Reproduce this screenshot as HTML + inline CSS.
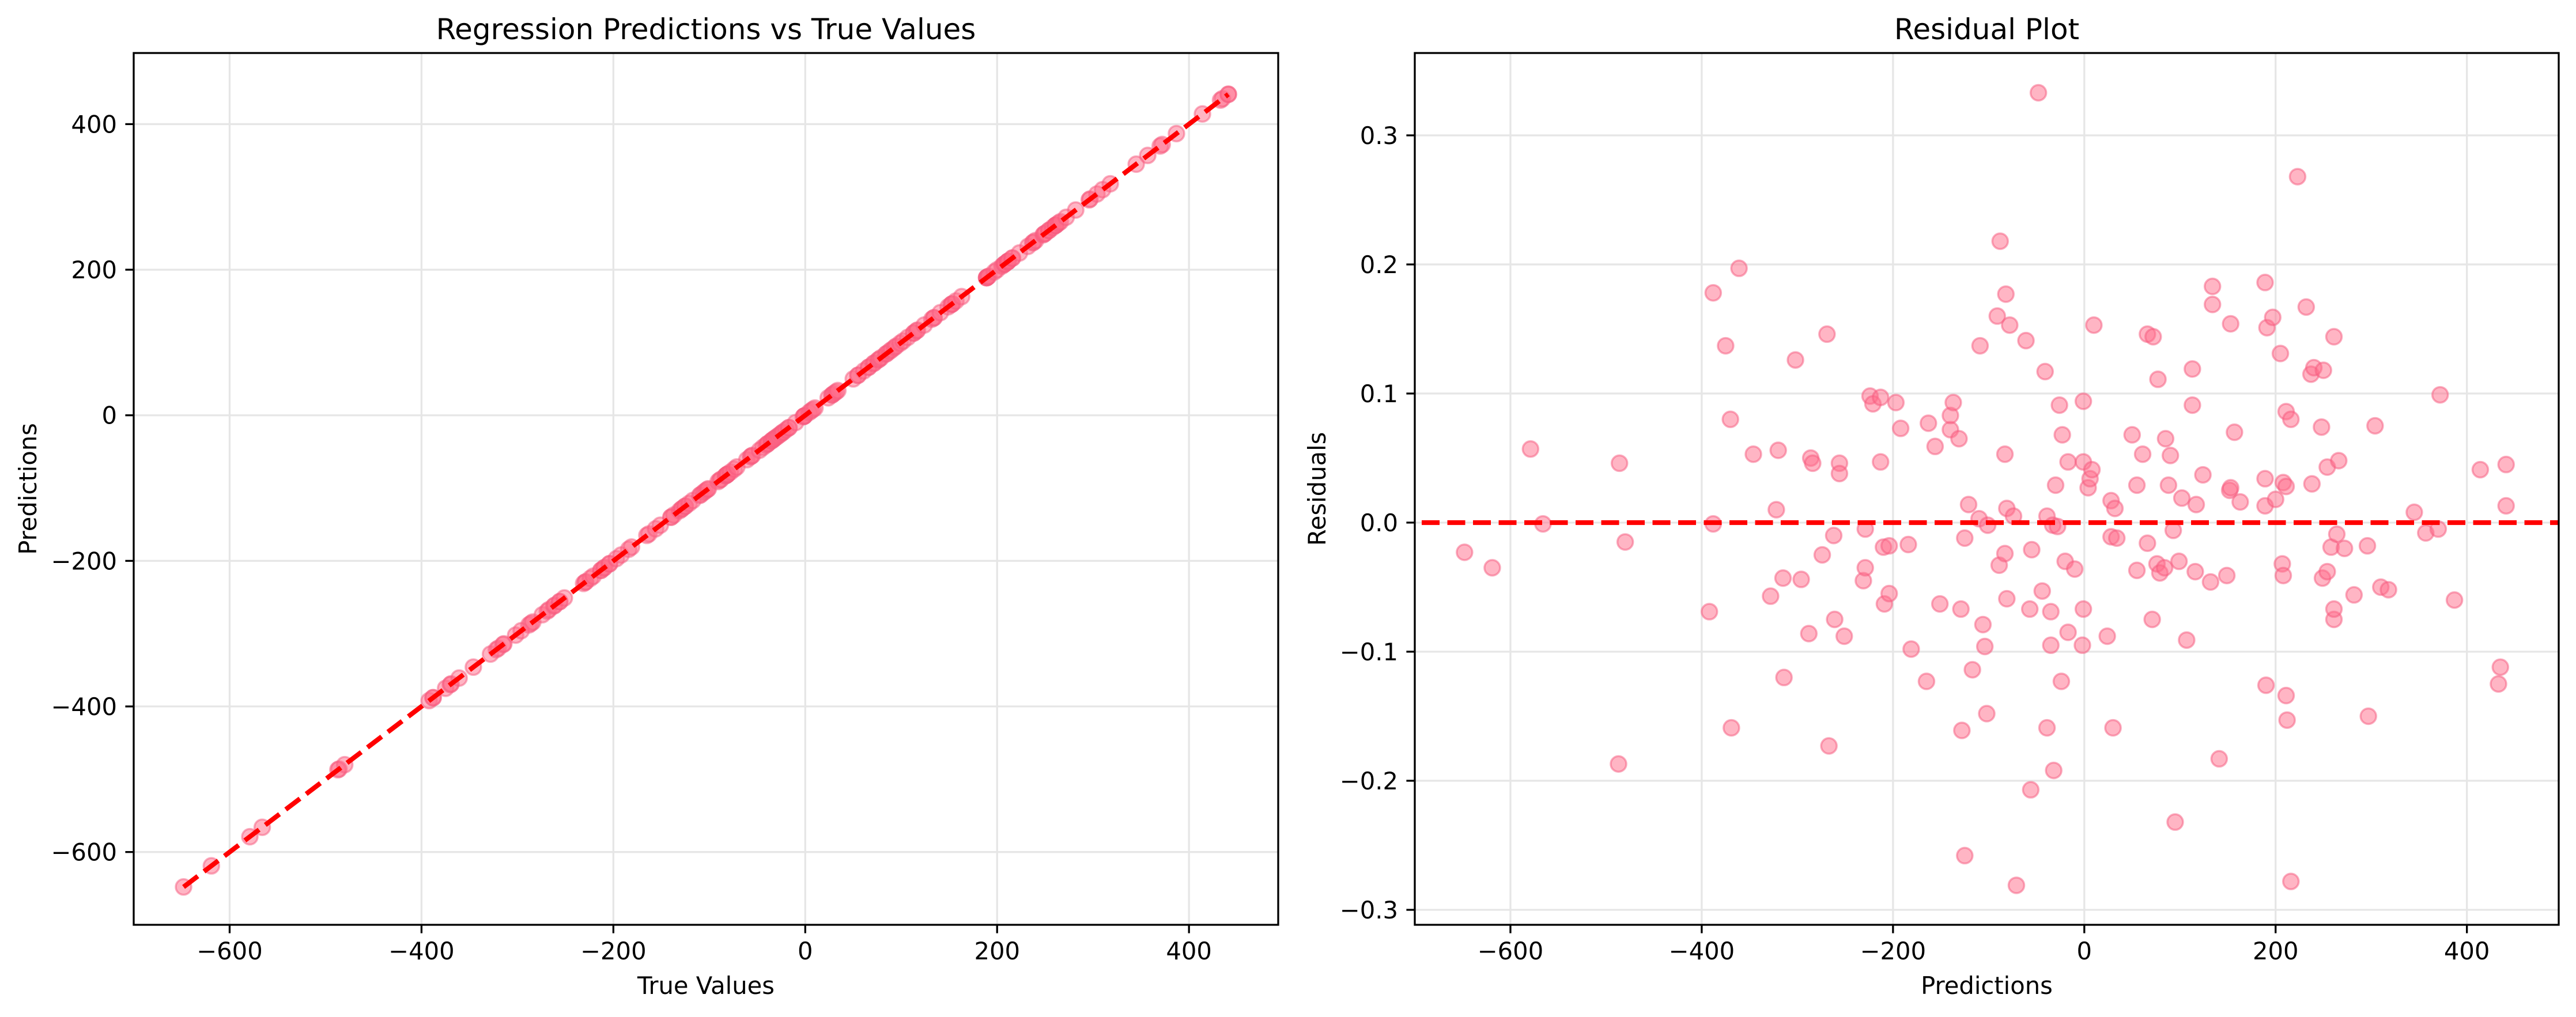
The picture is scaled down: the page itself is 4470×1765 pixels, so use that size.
<!DOCTYPE html>
<html><head><meta charset="utf-8"><style>
html,body{margin:0;padding:0;background:#fff;}
svg{display:block;font-family:"DejaVu Sans","Liberation Sans",sans-serif;}
</style></head><body>
<svg id="fig" width="4470" height="1765" viewBox="0 0 4470 1765" xmlns="http://www.w3.org/2000/svg">
<rect width="4470" height="1765" fill="#fff"/>
</svg>
<script>
const preds = [-648,-619,-579,-566,-486,-487,-480,-392,-388,-388,-375,-370,-369,-361,-346,-328,-322,-320,-315,-314,-302,-296,-288,-286,-284,-274,-269,-267,-262,-261,-256,-256,-251,-231,-229,-229,-224,-221,-213,-213,-210,-209,-204,-204,-197,-192,-184,-181,-165,-163,-156,-151,-140,-140,-137,-131,-129,-128,-125,-125,-121,-117,-110,-109,-106,-104,-102,-101,-91,-89,-88,-83,-83,-82,-81,-81,-78,-74,-71,-61,-57,-56,-55,-48,-44,-41,-39,-39,-35,-35,-33,-32,-30,-28,-26,-24,-23,-20,-17,-17,-10,-2,-1,-1,-1,4,6,8,10,24,28,28,30,32,34,50,55,55,61,66,66,71,72,76,77,79,84,85,88,90,93,95,99,102,107,113,113,116,117,124,132,134,134,141,149,152,153,153,157,163,189,189,189,190,191,197,200,205,207,208,208,211,211,211,212,216,216,223,232,237,238,240,248,249,250,254,254,258,261,261,261,264,266,272,282,296,297,304,310,318,345,357,370,372,387,414,433,435,441,441];
const resids = [-0.023,-0.035,0.057,-0.001,0.046,-0.187,-0.015,-0.069,0.178,-0.001,0.137,0.080,-0.159,0.197,0.053,-0.057,0.010,0.056,-0.043,-0.120,0.126,-0.044,-0.086,0.050,0.046,-0.025,0.146,-0.173,-0.010,-0.075,0.046,0.038,-0.088,-0.045,-0.035,-0.005,0.098,0.092,0.097,0.047,-0.019,-0.063,-0.018,-0.055,0.093,0.073,-0.017,-0.098,-0.123,0.077,0.059,-0.063,0.072,0.083,0.093,0.065,-0.067,-0.161,-0.012,-0.258,0.014,-0.114,0.003,0.137,-0.079,-0.096,-0.148,-0.002,0.160,-0.033,0.218,-0.024,0.053,0.177,0.011,-0.059,0.153,0.005,-0.281,0.141,-0.067,-0.207,-0.021,0.333,-0.053,0.117,0.005,-0.159,-0.069,-0.095,-0.002,-0.192,0.029,-0.003,0.091,-0.123,0.068,-0.030,0.047,-0.085,-0.036,-0.095,0.094,0.047,-0.067,0.027,0.034,0.041,0.153,-0.088,0.017,-0.011,-0.159,0.011,-0.012,0.068,0.029,-0.037,0.053,-0.016,0.146,-0.075,0.144,-0.032,0.111,-0.039,-0.035,0.065,0.029,0.052,-0.006,-0.232,-0.030,0.019,-0.091,0.119,0.091,-0.038,0.014,0.037,-0.046,0.183,0.169,-0.183,-0.041,0.025,0.154,0.027,0.070,0.016,0.186,0.034,0.013,-0.126,0.151,0.159,0.018,0.131,-0.032,-0.041,0.031,0.086,0.028,-0.134,-0.153,0.080,-0.278,0.268,0.167,0.115,0.030,0.120,0.074,-0.043,0.118,0.043,-0.038,-0.019,0.144,-0.075,-0.067,-0.009,0.048,-0.020,-0.056,-0.018,-0.150,0.075,-0.050,-0.052,0.008,-0.008,-0.005,0.099,-0.060,0.041,-0.125,-0.112,0.045,0.013];
const xTicks = [-600,-400,-200,0,200,400];
const yTicksLeft = [-600,-400,-200,0,200,400];
const yTicksRight = [-0.3,-0.2,-0.1,0.0,0.1,0.2,0.3];
const yTickLabelsRight = ["\u22120.3","\u22120.2","\u22120.1","0.0","0.1","0.2","0.3"];

const NS="http://www.w3.org/2000/svg";
const svg=document.getElementById('fig');
function mk(tag,attrs,parent){const e=document.createElementNS(NS,tag);for(const k in attrs)e.setAttribute(k,attrs[k]);(parent||svg).appendChild(e);return e;}
function fmt(v){return v<0?'\u2212'+Math.abs(v):String(v);}

function panel(cfg){
  const g=mk('g',{});
  
  
  const {L,R,T,B,x0,x1,y0,y1}=cfg;
  const sx=v=>L+(v-x0)/(x1-x0)*(R-L);
  const sy=v=>B-(v-y0)/(y1-y0)*(B-T);
  const clipId='clip'+cfg.name;
  const cp=mk('clipPath',{id:clipId},g);mk('rect',{x:L,y:T,width:R-L,height:B-T},cp);
  // grid
  cfg.xt.forEach(v=>{const l=mk('line',{x1:sx(v),x2:sx(v),y1:T,y2:B,stroke:'#e6e6e6','stroke-width':3.3},g);
    
    });
  cfg.yt.forEach(v=>{const l=mk('line',{x1:L,x2:R,y1:sy(v),y2:sy(v),stroke:'#e6e6e6','stroke-width':3.3},g);
    
    });
  const pg=mk('g',{'clip-path':'url(#'+clipId+')'},g);
  cfg.pts.forEach(p=>{const c=mk('circle',{cx:sx(p[0]),cy:sy(p[1]),r:13.5,fill:'rgba(255,107,138,0.5)',stroke:'rgba(245,90,125,0.5)','stroke-width':3.5},pg);
    
    });
  const ln=mk('line',{x1:sx(cfg.line[0]),y1:sy(cfg.line[1]),x2:sx(cfg.line[2]),y2:sy(cfg.line[3]),stroke:'#ff0000','stroke-width':8.3,'stroke-dasharray':'31,13.5'},pg);
  
  
  // spines
  const fr=mk('rect',{x:L,y:T,width:R-L,height:B-T,fill:'none',stroke:'#000','stroke-width':3.3},g);
  
  
  cfg.xt.forEach((v,i)=>{mk('line',{x1:sx(v),x2:sx(v),y1:B,y2:B+14.6,stroke:'#000','stroke-width':3.3},g);
    const t=mk('text',{x:sx(v),y:B+60,'text-anchor':'middle','font-size':41.7,fill:'#000'},g);t.textContent=fmt(v);
    
    });
  cfg.yt.forEach((v,i)=>{mk('line',{x1:L-14.6,x2:L,y1:sy(v),y2:sy(v),stroke:'#000','stroke-width':3.3},g);
    const t=mk('text',{x:L-29,y:sy(v)+15,'text-anchor':'end','font-size':41.7,fill:'#000'},g);t.textContent=cfg.ytl[i];
    
    });
  const ti=mk('text',{x:(L+R)/2,y:68,'text-anchor':'middle','font-size':50,fill:'#000'},g);ti.textContent=cfg.title;
  
  
  const xl=mk('text',{x:(L+R)/2,y:1725,'text-anchor':'middle','font-size':41.7,fill:'#000'},g);xl.textContent=cfg.xlabel;
  
  
  const yx=cfg.ylx;
  const yl=mk('text',{x:yx,y:(T+B)/2,'text-anchor':'middle','font-size':41.7,fill:'#000',transform:'rotate(-90 '+yx+' '+(T+B)/2+')'},g);yl.textContent=cfg.ylabel;
  
  
}

const leftPts=preds.map((p,i)=>[p+resids[i],p]);
const mn=Math.min(...preds), mx=Math.max(...preds);
panel({name:'predictions-vs-true-panel',L:232,R:2218,T:92,B:1605,x0:-700,x1:493,y0:-700,y1:497.7,
  xt:xTicks,yt:yTicksLeft,ytl:yTicksLeft.map(fmt),pts:leftPts,line:[mn,mn,mx,mx],
  title:'Regression Predictions vs True Values',xlabel:'True Values',ylabel:'Predictions',ylx:63});
panel({name:'residual-panel',L:2455,R:4440,T:92,B:1605,x0:-700,x1:496,y0:-0.3116,y1:0.3638,
  xt:xTicks,yt:yTicksRight,ytl:yTickLabelsRight,pts:preds.map((p,i)=>[p,resids[i]]),line:[-800,0,600,0],
  title:'Residual Plot',xlabel:'Predictions',ylabel:'Residuals',ylx:2300});
</script>
</body></html>
